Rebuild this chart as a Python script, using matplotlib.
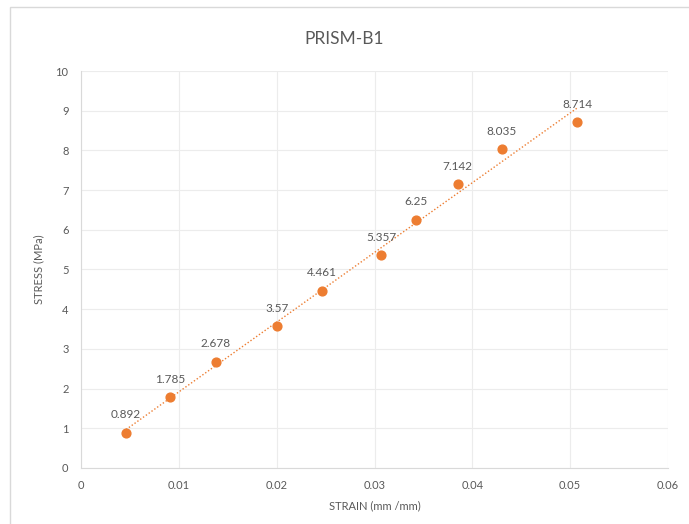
#!/usr/bin/env python3
"""PRISM-B1 stress-strain chart."""

import numpy as np
import matplotlib
matplotlib.use('Agg')
import matplotlib.pyplot as plt

# strain (mm/mm) and stress (MPa)
STRAIN = [0.0046, 0.0091, 0.0138, 0.0200, 0.0246, 0.0307, 0.0342, 0.0385, 0.0430, 0.0507]
STRESS = [0.892, 1.785, 2.678, 3.57, 4.461, 5.357, 6.25, 7.142, 8.035, 8.714]
STRESS_LABELS = ['0.892', '1.785', '2.678', '3.57', '4.461', '5.357', '6.25', '7.142', '8.035', '8.714']

X_TICKS = [0, 0.01, 0.02, 0.03, 0.04, 0.05, 0.06]
X_TICK_LABELS = ['0', '0.01', '0.02', '0.03', '0.04', '0.05', '0.06']
Y_TICKS = list(range(0, 11))

ORANGE = '#ED7D31'
TEXT = '#595959'
GRID = '#ececec'

plt.rcParams['font.family'] = ['Lato', 'DejaVu Sans']


def main():
    fig = plt.figure(figsize=(6.89, 5.24), dpi=100)
    ax = fig.add_axes([0.1176, 0.1069, 0.8519, 0.7576])

    # chart area frame
    frame = plt.Rectangle((0.0145, -0.01), 1.0, 0.997, transform=fig.transFigure,
                          fill=False, edgecolor='#d9d9d9', lw=1.0)
    fig.patches.append(frame)

    ax.scatter(STRAIN, STRESS, s=40, color=ORANGE, zorder=3)

    # linear trendline
    slope, icpt = np.polyfit(STRAIN, STRESS, 1)
    xs = np.array([STRAIN[0], STRAIN[-1]])
    ax.plot(xs, slope * xs + icpt, color=ORANGE, lw=1.0, ls=(0, (1, 1.5)), zorder=2)

    for x, y, lab in zip(STRAIN, STRESS, STRESS_LABELS):
        ax.annotate(lab, (x, y), xytext=(0, 9), textcoords='offset points',
                    ha='center', va='bottom', fontsize=8.5, color=TEXT)

    ax.set_xlim(0, 0.06)
    ax.set_ylim(0, 10)
    ax.set_xticks(X_TICKS)
    ax.set_xticklabels(X_TICK_LABELS)
    ax.set_yticks(Y_TICKS)
    ax.tick_params(length=0, labelsize=8, labelcolor=TEXT, pad=9)
    ax.grid(True, color=GRID, lw=0.8)
    ax.set_axisbelow(True)
    for side in ['top', 'right']:
        ax.spines[side].set_visible(False)
    for side in ['left', 'bottom']:
        ax.spines[side].set_color('#d9d9d9')

    ax.set_xlabel('STRAIN (mm /mm)', fontsize=8, color=TEXT, labelpad=6)
    ax.set_ylabel('STRESS (MPa)', fontsize=8, color=TEXT, labelpad=8)
    fig.text(0.5, 0.925, 'PRISM-B1', ha='center', va='center', fontsize=12.5, color=TEXT)

    fig.savefig('out.png', dpi=100)


if __name__ == '__main__':
    main()
